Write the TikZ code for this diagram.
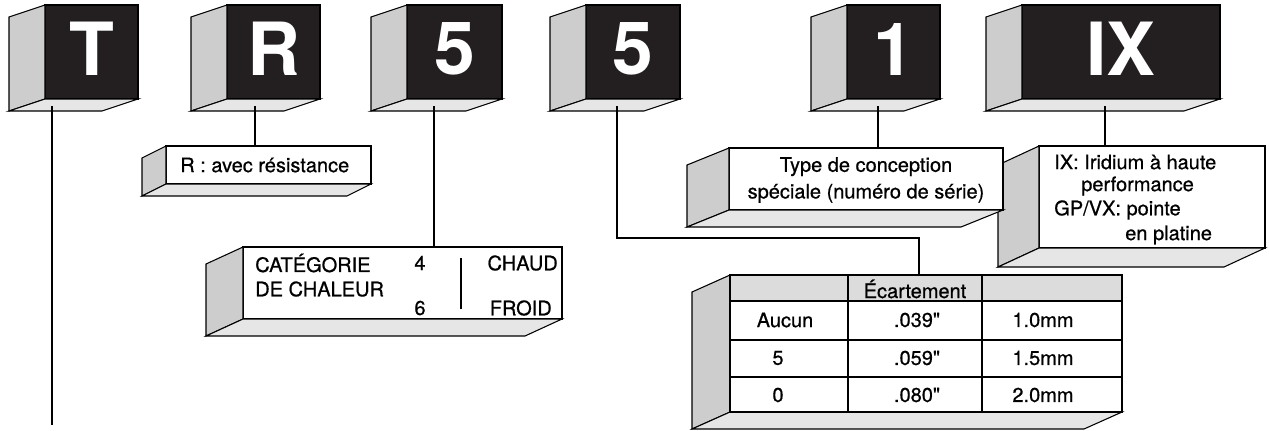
\documentclass[tikz,border=0pt]{standalone}
\usepackage{fontspec}
\setmainfont{TeX Gyre Heros}
\newfontfamily\medfont{TeX Gyre Heros}[FakeBold=0.7]
\usetikzlibrary{calc,fit}
\definecolor{cubeblack}{HTML}{231F20}
\definecolor{sidegray}{HTML}{CDCDCD}
\definecolor{botgray}{HTML}{E6E6E6}
\definecolor{headgray}{HTML}{DCDCDC}
\tikzset{
	front/.style={inner sep=0pt, outer sep=0pt, draw=black, line width=0.8pt},
	cube/.style={front, fill=cubeblack},
	letter/.style={text=white, inner sep=0pt, font=\fontsize{55}{60}\selectfont\bfseries},
	card/.style={front, fill=white},
	txt/.style={font=\fontsize{15}{18}\selectfont\medfont, inner sep=0pt},
	wire/.style={line width=0.8pt},
}
% side and bottom faces of a box: node, shift x, shift y
\newcommand\boxsides[3]{%
	\draw[wire, fill=sidegray] (#1.north west) -- ++(#2,#3) -- ($(#1.south west)+(#2,#3)$) -- (#1.south west) -- cycle;
	\draw[wire, fill=botgray] (#1.south west) -- (#1.south east) -- ++(#2,#3) -- ($(#1.south west)+(#2,#3)$) -- cycle;
}

\begin{document}
\begin{tikzpicture}[x=0.75pt, y=-0.75pt]
\useasboundingbox (0,0) rectangle (1269,430);

% code letters
\node[cube, fit={(45,5) (138,99)}] (T) {};
\boxsides{T}{-36}{12}
\node[letter] (Tl) at ($(T.center)+(0,-3)$) {T};
\node[cube, fit={(227,5) (320,99)}] (R) {};
\boxsides{R}{-36}{12}
\node[letter] (Rl) at ($(R.center)+(0,-3)$) {R};
\node[cube, fit={(407,5) (502,99)}] (five) {};
\boxsides{five}{-36}{12}
\node[letter] (fivel) at ($(five.center)+(0,-3)$) {5};
\node[cube, fit={(586,5) (680,99)}] (gap) {};
\boxsides{gap}{-36}{12}
\node[letter] (gapl) at ($(gap.center)+(0,-3)$) {5};
\node[cube, fit={(847,5) (940,99)}] (one) {};
\boxsides{one}{-36}{12}
\node[letter] (onel) at ($(one.center)+(0,-3)$) {1};
\node[cube, fit={(1022,5) (1220,99)}] (IX) {};
\boxsides{IX}{-36}{12}
\node[letter] (IXl) at ($(IX.center)+(0,-3)$) {IX};

\coordinate (Tfoot) at (52,106);
\coordinate (Rfoot) at (255,106);
\coordinate (fivefoot) at (434,106);
\coordinate (gapfoot) at (617,106);
\coordinate (onefoot) at (878,106);
\coordinate (IXfoot) at (1105,106);
\coordinate (Tend) at (52,425);

% R
\node[card, fit={(166,146) (371,184)}] (rbox) {};
\boxsides{rbox}{-24}{12}
\node[txt, anchor=west] (rtxt) at (180,165) {R : avec résistance};

% heat range
\node[card, fit={(243,247) (562,319)}] (heat) {};
\boxsides{heat}{-37}{17}
\node[txt, anchor=west] (cat) at (255,263) {CATÉGORIE};
\node[txt, anchor=west] (dech) at (255,289) {DE CHALEUR};
\node[txt] (four) at (420,263) {4};
\node[txt] (six) at (420,308) {6};
\node[txt, anchor=east] (hot) at (558,263) {CHAUD};
\node[txt, anchor=east] (cold) at (552,308) {FROID};
\coordinate (bartop) at (461,258);
\coordinate (barbot) at (461,309);
\draw[wire] (bartop) -- (barbot);

% IX
\node[card, fit={(1039,146) (1265,248)}] (ixbox) {};
\boxsides{ixbox}{-41}{19}
\node[txt, anchor=west] (ix1) at (1054,162) {IX: Iridium à haute};
\node[txt, anchor=west] (ix2) at (1081,186) {performance};
\node[txt, anchor=west] (ix3) at (1054,210) {GP/VX: pointe};
\node[txt, anchor=west] (ix4) at (1125,235) {en platine};

% 1
\node[card, fit={(729,148) (1003,210)}] (onebox) {};
\boxsides{onebox}{-42}{17}
\node[txt, align=center] (onetxt) at (866,180) {Type de conception\\[2pt]spéciale (numéro de série)};

% gap table
\node[card, fit={(730,275) (1122,412)}] (tab) {};
\boxsides{tab}{-38}{17}
\fill[headgray] (730,275) rectangle (1122,301);
\draw[wire] (tab.north west) rectangle (tab.south east);
\draw[wire] (730,301) -- (1122,301) (730,340) -- (1122,340) (730,377) -- (1122,377);
\draw[wire] (848,275) -- (848,412) (982,275) -- (982,412);
\node[txt] (head) at (915,289) {Écartement};
\node[txt] (c11) at (785,320) {Aucun};
\node[txt] (c12) at (917,320) {.039\textquotedbl};
\node[txt] (c13) at (1043,320) {1.0mm};
\node[txt] (c21) at (778,358) {5};
\node[txt] (c22) at (917,358) {.059\textquotedbl};
\node[txt] (c23) at (1043,358) {1.5mm};
\node[txt] (c31) at (778,395) {0};
\node[txt] (c32) at (917,395) {.080\textquotedbl};
\node[txt] (c33) at (1043,395) {2.0mm};

% connectors
\draw[wire] (Tfoot) -- (Tend);
\draw[wire] (Rfoot) -- (Rfoot |- rbox.north);
\draw[wire] (fivefoot) -- (fivefoot |- heat.north);
\draw[wire] (gapfoot) -- (617,238) -- (919,238) -- (919,275);
\draw[wire] (onefoot) -- (onefoot |- onebox.north);
\draw[wire] (IXfoot) -- (IXfoot |- ixbox.north);
\end{tikzpicture}
\end{document}
